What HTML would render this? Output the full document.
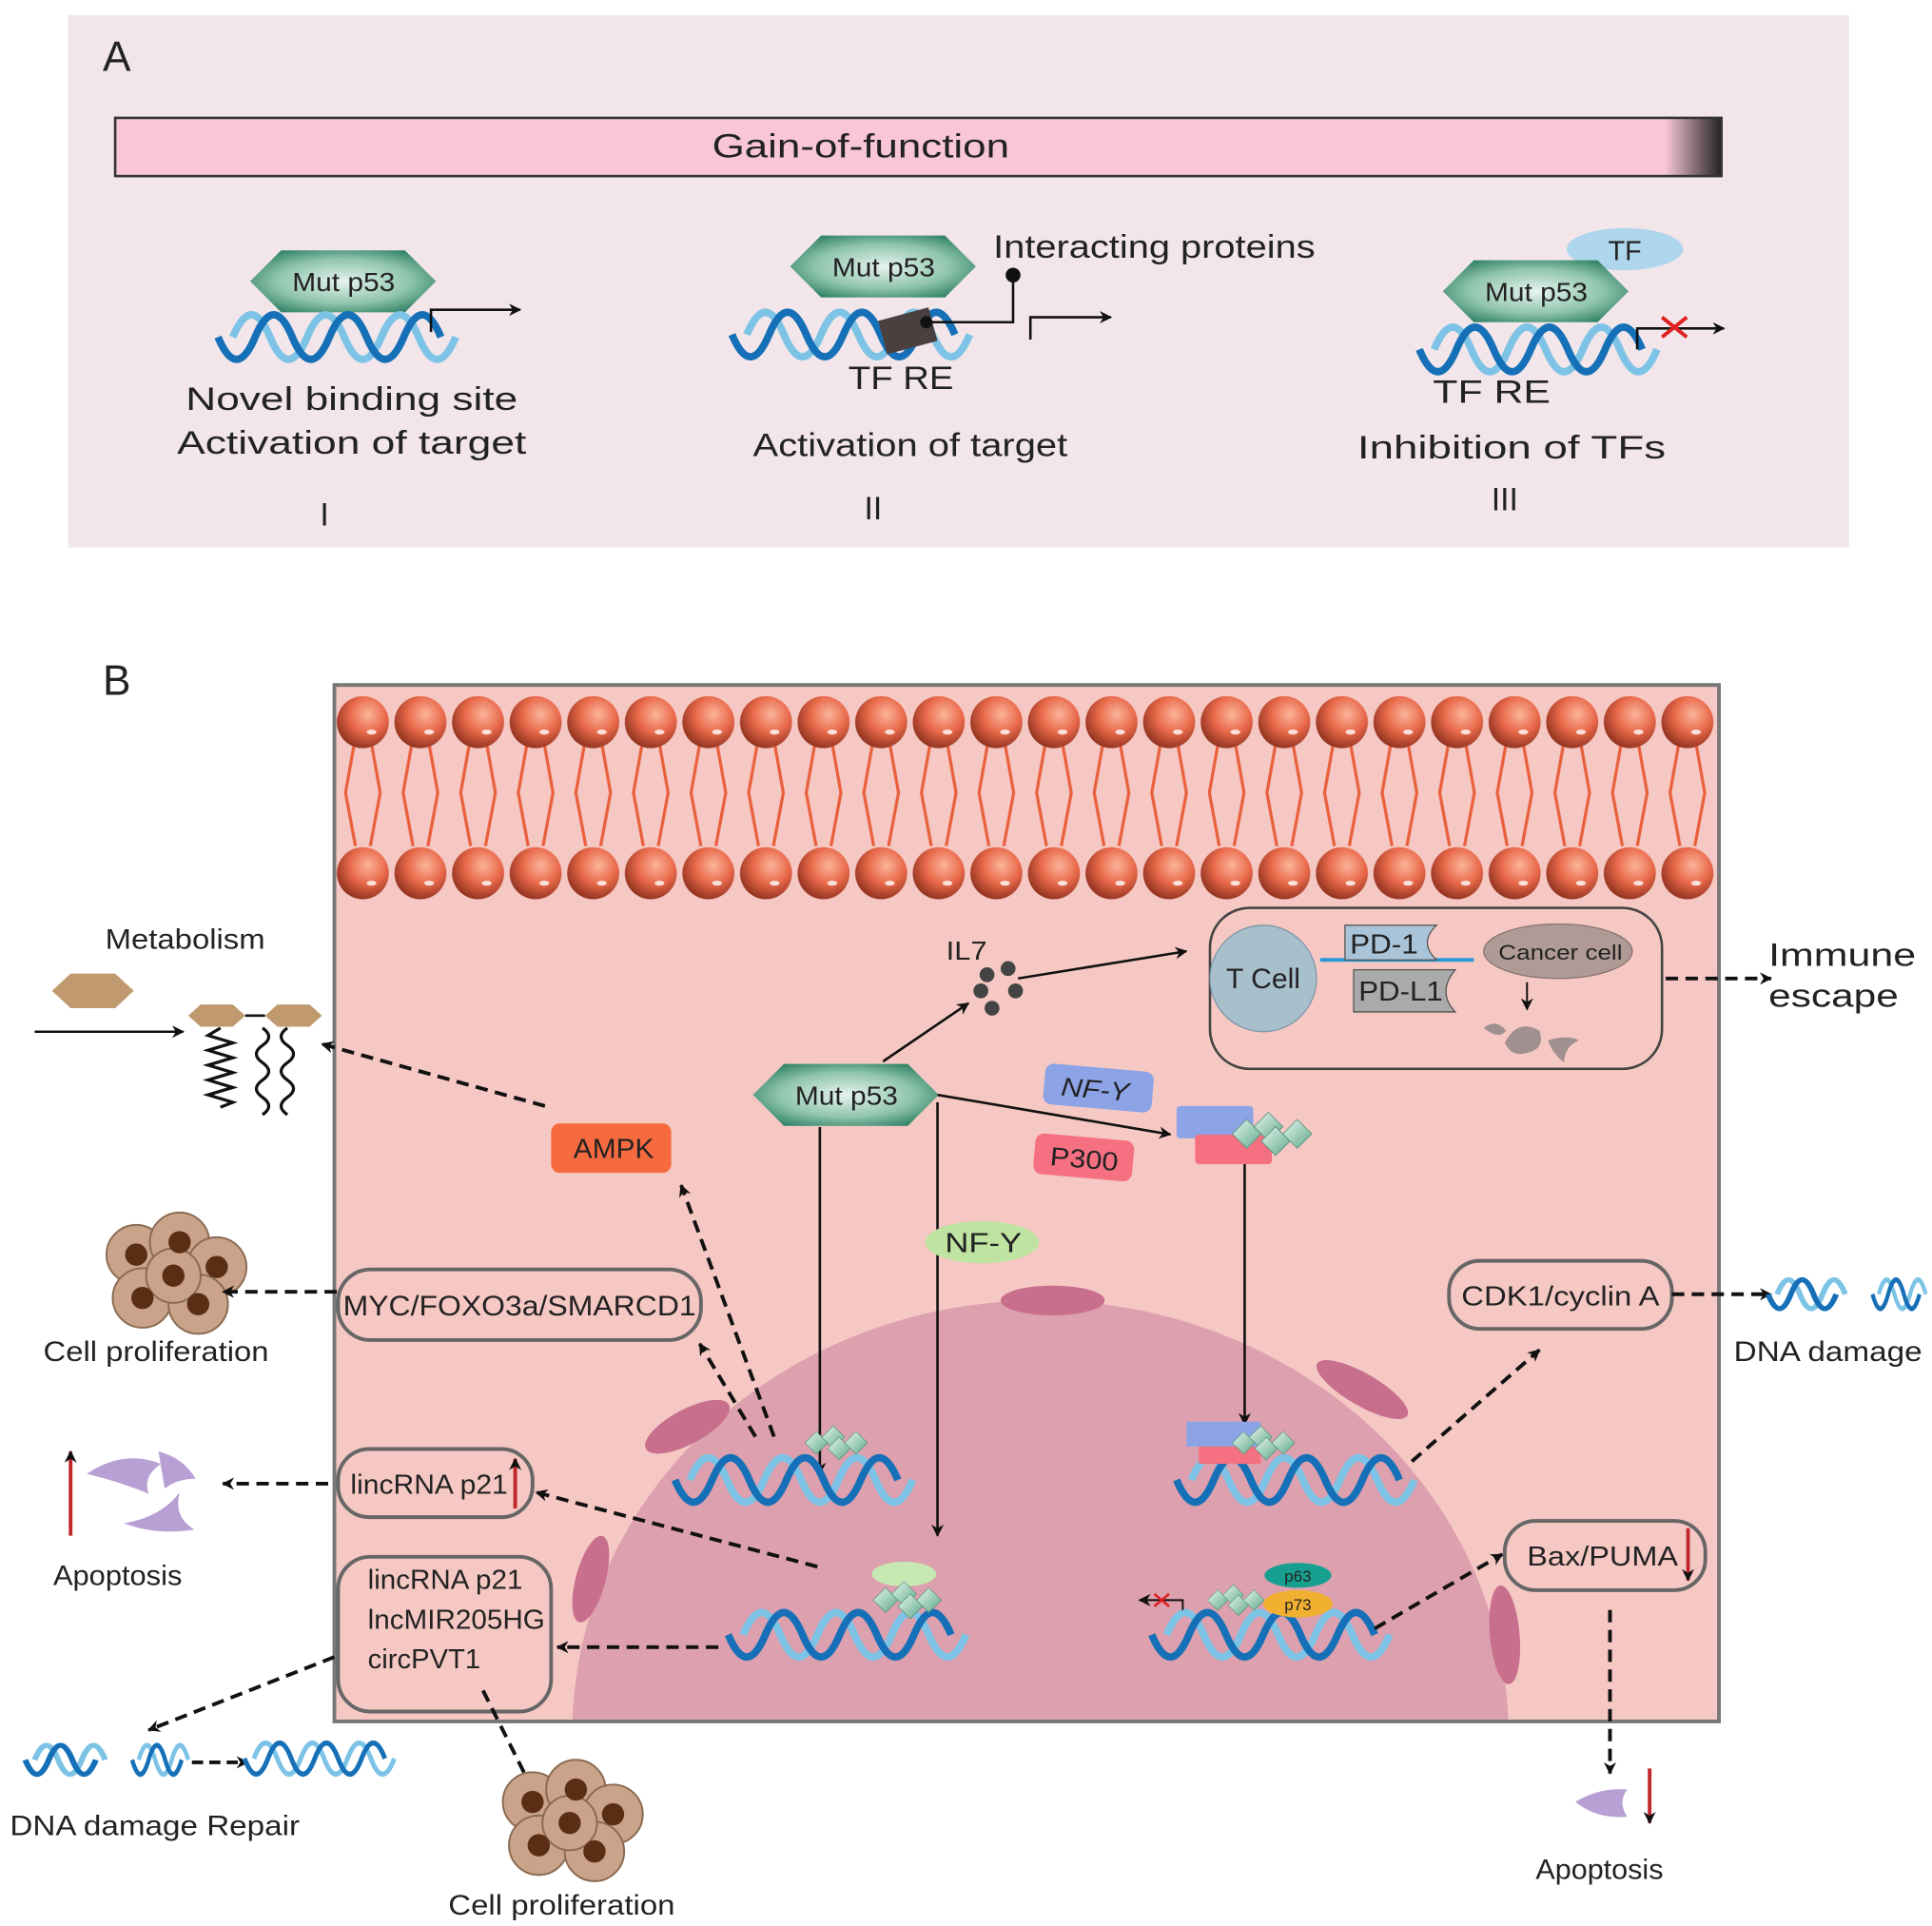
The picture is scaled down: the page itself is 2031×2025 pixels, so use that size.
<!DOCTYPE html>
<html><head><meta charset="utf-8"><style>html,body{margin:0;padding:0;background:#fff;overflow:hidden;width:2031px;height:2025px}svg{display:block}text{font-family:"Liberation Sans",sans-serif;fill:#222}</style></head><body>
<svg width="2031" height="2025" viewBox="0 0 1560 1555" xmlns="http://www.w3.org/2000/svg">
<defs>
<linearGradient id="gof" x1="0" x2="1"><stop offset="0.965" stop-color="#f8c6d6"/><stop offset="1" stop-color="#222"/></linearGradient>
<radialGradient id="hexg" cx="0.5" cy="0.5" r="0.6"><stop offset="0" stop-color="#e6f4ee"/><stop offset="0.6" stop-color="#8fc4ad"/><stop offset="1" stop-color="#2d7f62"/></radialGradient>
<radialGradient id="head" cx="0.6" cy="0.35" r="0.7"><stop offset="0" stop-color="#fbb49a"/><stop offset="0.5" stop-color="#e9694a"/><stop offset="1" stop-color="#8a2e1c"/></radialGradient>
<linearGradient id="dia" x1="0" x2="1" y1="0" y2="1"><stop offset="0" stop-color="#e8f6f0"/><stop offset="1" stop-color="#5ea88a"/></linearGradient>
<marker id="ah" markerWidth="10" markerHeight="10" refX="9" refY="5" orient="auto" markerUnits="userSpaceOnUse"><path d="M0,0 L10,5 L0,10 L3,5 Z" fill="#111"/></marker>
<symbol id="hex" viewBox="-76 -26 152 52" overflow="visible"><polygon points="-75,0 -50,-25 50,-25 75,0 50,25 -50,25" fill="url(#hexg)"/></symbol>
<symbol id="dna" viewBox="0 -22 180 44" overflow="visible">
<path d="M0,0 Q15,-36 30,0 T60,0 T90,0 T120,0 T150,0 T180,0" fill="none" stroke="#7cc3e6" stroke-width="6"/>
<path d="M-12,0 Q3,36 18,0 T48,0 T78,0 T108,0 T138,0 T168,0" fill="none" stroke="#1570b8" stroke-width="6"/>
</symbol>
<symbol id="dnas" viewBox="0 -18 60 36" overflow="visible" preserveAspectRatio="none">
<path d="M0,0 Q10,-28 20,0 T40,0 T60,0" fill="none" stroke="#7cc3e6" stroke-width="5"/>
<path d="M-8,0 Q2,28 12,0 T32,0 T52,0" fill="none" stroke="#1570b8" stroke-width="5"/>
</symbol>
<symbol id="dias" viewBox="0 0 60 30" overflow="visible">
<g fill="url(#dia)" stroke="#4c8f75" stroke-width="0.5"><polygon points="0,15 10,5 20,15 10,25"/><polygon points="15,10 25,0 35,10 25,20"/><polygon points="20,20 30,10 40,20 30,30"/><polygon points="35,15 45,5 55,15 45,25"/></g>
</symbol>
<pattern id="mem" x="270" y="555" width="46.5" height="175" patternUnits="userSpaceOnUse">
<g stroke="#e8603c" stroke-width="2.5" fill="none"><path d="M17,40 L9,85 L17,128"/><path d="M29,40 L37,85 L29,128"/></g>
<circle cx="23" cy="28" r="21" fill="url(#head)"/><circle cx="23" cy="150" r="21" fill="url(#head)"/>
<ellipse cx="30" cy="36" rx="4" ry="2" fill="#fff" opacity=".8"/><ellipse cx="30" cy="158" rx="4" ry="2" fill="#fff" opacity=".8"/>
</pattern>
<clipPath id="cellclip"><rect x="270" y="553" width="1118" height="837"/></clipPath>
<symbol id="cells" viewBox="-60 -50 120 100" overflow="visible">
<g fill="#c9a48a" stroke="#8a6a52" stroke-width="1.5">
<circle cx="-30" cy="-15" r="24"/><circle cx="5" cy="-25" r="24"/><circle cx="35" cy="-5" r="24"/><circle cx="-25" cy="20" r="24"/><circle cx="20" cy="25" r="24"/><circle cx="0" cy="2" r="22"/></g>
<g fill="#5a2e14"><circle cx="-30" cy="-15" r="9"/><circle cx="5" cy="-25" r="9"/><circle cx="35" cy="-5" r="9"/><circle cx="-25" cy="20" r="9"/><circle cx="20" cy="25" r="9"/><circle cx="0" cy="2" r="9"/></g>
</symbol>
</defs>

<!-- Panel A -->
<rect x="55" y="12" width="1438" height="430" fill="#f2e6ea"/>
<text x="83" y="57" font-size="34">A</text>
<rect x="93" y="95" width="1297" height="47" fill="url(#gof)" stroke="#333" stroke-width="2"/>
<text x="575" y="127" font-size="27" textLength="240" lengthAdjust="spacingAndGlyphs">Gain-of-function</text>

<use href="#hex" x="201" y="201" width="152" height="52"/>
<text x="236" y="235" font-size="21" textLength="83" lengthAdjust="spacingAndGlyphs">Mut p53</text>
<use href="#dna" x="188" y="250" width="180" height="44"/>
<path d="M348,268 V250 H420" fill="none" stroke="#111" stroke-width="2" marker-end="url(#ah)"/>
<text x="150" y="331" font-size="26" textLength="268" lengthAdjust="spacingAndGlyphs">Novel binding site</text>
<text x="143" y="366" font-size="26" textLength="282" lengthAdjust="spacingAndGlyphs">Activation of target</text>
<text x="262" y="424" font-size="26" text-anchor="middle" font-family="Liberation Serif">I</text>

<use href="#hex" x="637" y="189" width="152" height="52"/>
<text x="672" y="223" font-size="21" textLength="83" lengthAdjust="spacingAndGlyphs">Mut p53</text>
<use href="#dna" x="603" y="248" width="180" height="44"/>
<rect x="712" y="253" width="42" height="28" fill="#4a4040" transform="rotate(-15 733 267)"/>
<path d="M748,260 H818 V222" fill="none" stroke="#111" stroke-width="2"/>
<circle cx="748" cy="260" r="5" fill="#111"/><circle cx="818" cy="222" r="6" fill="#111"/>
<text x="802" y="208" font-size="26" textLength="260" lengthAdjust="spacingAndGlyphs">Interacting proteins</text>
<path d="M832,274 V256 H897" fill="none" stroke="#111" stroke-width="2" marker-end="url(#ah)"/>
<text x="685" y="314" font-size="26" textLength="85" lengthAdjust="spacingAndGlyphs">TF RE</text>
<text x="608" y="368" font-size="26" textLength="254" lengthAdjust="spacingAndGlyphs">Activation of target</text>
<text x="705" y="419" font-size="26" text-anchor="middle" font-family="Liberation Serif">II</text>

<ellipse cx="1312" cy="201" rx="47" ry="17" fill="#aed6ec"/>
<text x="1312" y="210" font-size="22" text-anchor="middle">TF</text>
<use href="#hex" x="1164" y="209" width="152" height="52"/>
<text x="1199" y="243" font-size="21" textLength="83" lengthAdjust="spacingAndGlyphs">Mut p53</text>
<use href="#dna" x="1158" y="260" width="180" height="44"/>
<path d="M1322,282 V265 H1392" fill="none" stroke="#111" stroke-width="2" marker-end="url(#ah)"/>
<path d="M1342,256 L1362,272 M1342,272 L1362,256" stroke="#e02020" stroke-width="3"/>
<text x="1157" y="325" font-size="26" textLength="95" lengthAdjust="spacingAndGlyphs">TF RE</text>
<text x="1096" y="370" font-size="26" textLength="249" lengthAdjust="spacingAndGlyphs">Inhibition of  TFs</text>
<text x="1215" y="412" font-size="26" text-anchor="middle" font-family="Liberation Serif">III</text>

<!-- Panel B -->
<text x="83" y="561" font-size="34">B</text>
<rect x="270" y="553" width="1118" height="837" fill="#f6c8c4"/>
<g clip-path="url(#cellclip)">
<ellipse cx="840" cy="1400" rx="378" ry="350" fill="#dca0ae"/>
<g fill="#c86f8e">
<ellipse cx="850" cy="1050" rx="42" ry="12"/>
<ellipse cx="555" cy="1152" rx="38" ry="14" transform="rotate(-28 555 1152)"/>
<ellipse cx="1100" cy="1122" rx="42" ry="13" transform="rotate(30 1100 1122)"/>
<ellipse cx="477" cy="1275" rx="36" ry="12" transform="rotate(-75 477 1275)"/>
<ellipse cx="1215" cy="1320" rx="40" ry="12" transform="rotate(85 1215 1320)"/>
</g>
</g>
<rect x="270" y="555" width="1118" height="175" fill="url(#mem)"/>
<rect x="270" y="553" width="1118" height="837" fill="none" stroke="#777" stroke-width="3"/>

<!-- metabolism -->
<text x="85" y="766" font-size="23" textLength="129" lengthAdjust="spacingAndGlyphs">Metabolism</text>
<polygon points="42,800 57,786 93,786 108,800 93,814 57,814" fill="#c09a6e"/>
<line x1="28" y1="833" x2="148" y2="833" stroke="#111" stroke-width="2" marker-end="url(#ah)"/>
<polygon points="152,820 162,811 188,811 198,820 188,829 162,829" fill="#c09a6e"/>
<polygon points="214,820 224,811 250,811 260,820 250,829 224,829" fill="#c09a6e"/>
<line x1="198" y1="820" x2="214" y2="820" stroke="#111" stroke-width="2"/>
<path d="M178,830 l-10,6 l20,6 l-20,6 l20,6 l-20,6 l20,6 l-20,6 l20,6 l-20,6 l20,6 l-10,4" fill="none" stroke="#111" stroke-width="2.5"/>
<path d="M212,830 q10,7 0,14 q-10,7 0,14 q10,7 0,14 q-10,7 0,14 q10,7 0,14" fill="none" stroke="#111" stroke-width="2.5"/>
<path d="M232,830 q-10,7 0,14 q10,7 0,14 q-10,7 0,14 q10,7 0,14 q-10,7 0,14" fill="none" stroke="#111" stroke-width="2.5"/>

<rect x="445" y="907" width="97" height="40" rx="7" fill="#f56a3e"/>
<text x="463" y="935" font-size="22" textLength="65" lengthAdjust="spacingAndGlyphs">AMPK</text>
<line x1="440" y1="893" x2="260" y2="843" stroke="#111" stroke-width="3" stroke-dasharray="10,6" marker-end="url(#ah)"/>

<use href="#cells" x="80" y="978" width="120" height="100"/>
<text x="35" y="1099" font-size="23" textLength="182" lengthAdjust="spacingAndGlyphs">Cell proliferation</text>
<rect x="273" y="1025" width="293" height="57" rx="26" fill="none" stroke="#666" stroke-width="3"/>
<text x="277" y="1062" font-size="23" textLength="285" lengthAdjust="spacingAndGlyphs">MYC/FOXO3a/SMARCD1</text>
<line x1="272" y1="1043" x2="180" y2="1043" stroke="#111" stroke-width="3" stroke-dasharray="10,6" marker-end="url(#ah)"/>

<line x1="57" y1="1240" x2="57" y2="1172" stroke="#c0282c" stroke-width="3" marker-end="url(#ah)"/>
<g fill="#b8a0d4"><path d="M70,1190 q30,-20 60,-8 q-15,10 -10,24 q-25,-10 -50,-16z"/><path d="M100,1230 q30,-5 45,-25 q-5,20 12,30 q-30,5 -57,-5z"/><path d="M128,1172 q20,5 30,22 q-15,0 -25,8z"/></g>
<text x="43" y="1280" font-size="23" textLength="104" lengthAdjust="spacingAndGlyphs">Apoptosis</text>
<rect x="273" y="1170" width="157" height="55" rx="25" fill="none" stroke="#666" stroke-width="3"/>
<text x="283" y="1206" font-size="22" textLength="127" lengthAdjust="spacingAndGlyphs">lincRNA p21</text>
<line x1="416" y1="1218" x2="416" y2="1178" stroke="#c0282c" stroke-width="3" marker-end="url(#ah)"/>
<line x1="265" y1="1198" x2="180" y2="1198" stroke="#111" stroke-width="3" stroke-dasharray="10,6" marker-end="url(#ah)"/>
<rect x="273" y="1257" width="172" height="125" rx="26" fill="none" stroke="#666" stroke-width="3"/>
<text x="297" y="1283" font-size="22" textLength="125" lengthAdjust="spacingAndGlyphs">lincRNA p21</text>
<text x="297" y="1315" font-size="22" textLength="143" lengthAdjust="spacingAndGlyphs">lncMIR205HG</text>
<text x="297" y="1347" font-size="22" textLength="91" lengthAdjust="spacingAndGlyphs">circPVT1</text>
<line x1="270" y1="1338" x2="120" y2="1397" stroke="#111" stroke-width="3" stroke-dasharray="10,6" marker-end="url(#ah)"/>
<use href="#dnas" x="28" y="1406" width="57" height="30"/>
<use href="#dnas" x="112" y="1406" width="40" height="30"/>
<line x1="155" y1="1423" x2="200" y2="1423" stroke="#111" stroke-width="3" stroke-dasharray="9,5" marker-end="url(#ah)"/>
<g transform="translate(205,1420) scale(0.63,0.7)"><use href="#dna" x="0" y="-22" width="180" height="44"/></g>
<text x="8" y="1482" font-size="23" textLength="234" lengthAdjust="spacingAndGlyphs">DNA damage Repair</text>
<line x1="390" y1="1365" x2="430" y2="1445" stroke="#111" stroke-width="3" stroke-dasharray="10,6" marker-end="url(#ah)"/>
<use href="#cells" x="400" y="1420" width="120" height="100"/>
<text x="362" y="1546" font-size="23" textLength="183" lengthAdjust="spacingAndGlyphs">Cell proliferation</text>

<!-- center -->
<use href="#hex" x="607" y="858" width="152" height="52"/>
<text x="642" y="892" font-size="21" textLength="83" lengthAdjust="spacingAndGlyphs">Mut p53</text>
<line x1="713" y1="857" x2="782" y2="810" stroke="#111" stroke-width="2" marker-end="url(#ah)"/>
<text x="764" y="775" font-size="21" textLength="33" lengthAdjust="spacingAndGlyphs">IL7</text>
<g fill="#444"><circle cx="797" cy="787" r="6"/><circle cx="814" cy="782" r="6"/><circle cx="792" cy="800" r="6"/><circle cx="820" cy="800" r="6"/><circle cx="801" cy="814" r="6"/></g>
<line x1="822" y1="790" x2="958" y2="768" stroke="#111" stroke-width="2" marker-end="url(#ah)"/>
<rect x="977" y="733" width="365" height="130" rx="32" fill="none" stroke="#444" stroke-width="2"/>
<circle cx="1020" cy="790" r="43" fill="#a8bfcc" stroke="#7d98a8"/>
<text x="990" y="798" font-size="23" textLength="60" lengthAdjust="spacingAndGlyphs">T Cell</text>
<line x1="1066" y1="775" x2="1190" y2="775" stroke="#2a9ad8" stroke-width="3"/>
<path d="M1086,747 H1160 q-15,14 0,28 H1086z" fill="#a9c4d9" stroke="#555"/>
<text x="1090" y="770" font-size="22" textLength="55" lengthAdjust="spacingAndGlyphs">PD-1</text>
<path d="M1093,783 H1175 q-15,18 0,34 H1093z" fill="#aaa" stroke="#555"/>
<text x="1097" y="808" font-size="22" textLength="68" lengthAdjust="spacingAndGlyphs">PD-L1</text>
<ellipse cx="1258" cy="768" rx="60" ry="22" fill="#b09a95" stroke="#8a7470"/>
<text x="1210" y="775" font-size="17" textLength="100" lengthAdjust="spacingAndGlyphs">Cancer cell</text>
<line x1="1233" y1="793" x2="1233" y2="815" stroke="#111" stroke-width="1.5" marker-end="url(#ah)"/>
<g fill="#a09090"><path d="M1198,830 q10,-8 18,2 q-5,8 -18,-2z"/><path d="M1215,842 q10,-20 28,-10 q5,15 -10,18 q-12,4 -18,-8z"/><path d="M1250,840 q15,-5 25,0 q-12,5 -12,18 q-10,-8 -13,-18z"/></g>
<line x1="1345" y1="790" x2="1430" y2="790" stroke="#111" stroke-width="3" stroke-dasharray="10,6" marker-end="url(#ah)"/>
<text x="1428" y="780" font-size="26" textLength="119" lengthAdjust="spacingAndGlyphs">Immune</text>
<text x="1428" y="813" font-size="26" textLength="105" lengthAdjust="spacingAndGlyphs">escape</text>

<rect x="843" y="862" width="88" height="33" rx="7" fill="#8ca4e6" transform="rotate(5 887 878)"/>
<text x="857" y="887" font-size="21" font-style="italic" textLength="55" lengthAdjust="spacingAndGlyphs" transform="rotate(5 887 878)">NF-Y</text>
<rect x="835" y="918" width="80" height="33" rx="7" fill="#f57080" transform="rotate(5 875 935)"/>
<text x="848" y="943" font-size="21" textLength="55" lengthAdjust="spacingAndGlyphs" transform="rotate(5 875 935)">P300</text>
<line x1="757" y1="884" x2="945" y2="916" stroke="#111" stroke-width="2" marker-end="url(#ah)"/>
<rect x="950" y="893" width="62" height="26" rx="3" fill="#8ca4e6"/>
<rect x="965" y="916" width="62" height="24" rx="3" fill="#f57080"/>
<use href="#dias" x="995" y="898" width="70" height="35"/>
<line x1="1005" y1="940" x2="1005" y2="1150" stroke="#111" stroke-width="2" marker-end="url(#ah)"/>

<line x1="662" y1="910" x2="662" y2="1190" stroke="#111" stroke-width="2" marker-end="url(#ah)"/>
<line x1="757" y1="890" x2="757" y2="1240" stroke="#111" stroke-width="2" marker-end="url(#ah)"/>
<ellipse cx="793" cy="1003" rx="46" ry="17" fill="#bfe3a0"/>
<text x="763" y="1011" font-size="22" textLength="62" lengthAdjust="spacingAndGlyphs">NF-Y</text>

<use href="#dna" x="557" y="1173" width="180" height="44"/>
<use href="#dias" x="650" y="1150" width="55" height="30"/>
<line x1="625" y1="1160" x2="550" y2="957" stroke="#111" stroke-width="3" stroke-dasharray="10,6" marker-end="url(#ah)"/>
<line x1="610" y1="1160" x2="565" y2="1085" stroke="#111" stroke-width="3" stroke-dasharray="10,6" marker-end="url(#ah)"/>

<use href="#dna" x="600" y="1298" width="180" height="44"/>
<ellipse cx="730" cy="1271" rx="26" ry="10" fill="#c7e8b2"/>
<use href="#dias" x="705" y="1277" width="60" height="30"/>
<line x1="660" y1="1265" x2="433" y2="1205" stroke="#111" stroke-width="3" stroke-dasharray="10,6" marker-end="url(#ah)"/>
<line x1="580" y1="1330" x2="450" y2="1330" stroke="#111" stroke-width="3" stroke-dasharray="10,6" marker-end="url(#ah)"/>

<use href="#dna" x="962" y="1173" width="180" height="44"/>
<rect x="958" y="1148" width="60" height="20" fill="#8ca4e6"/>
<rect x="968" y="1168" width="50" height="14" fill="#f57080"/>
<use href="#dias" x="995" y="1150" width="55" height="30"/>
<line x1="1140" y1="1180" x2="1243" y2="1090" stroke="#111" stroke-width="3" stroke-dasharray="10,6" marker-end="url(#ah)"/>
<rect x="1170" y="1018" width="180" height="55" rx="25" fill="none" stroke="#666" stroke-width="3"/>
<text x="1180" y="1054" font-size="22" textLength="160" lengthAdjust="spacingAndGlyphs">CDK1/cyclin A</text>
<line x1="1350" y1="1045" x2="1430" y2="1045" stroke="#111" stroke-width="3" stroke-dasharray="10,6" marker-end="url(#ah)"/>
<use href="#dnas" x="1435" y="1030" width="55" height="30"/>
<use href="#dnas" x="1517" y="1030" width="38" height="30"/>
<text x="1400" y="1099" font-size="23" textLength="152" lengthAdjust="spacingAndGlyphs">DNA damage</text>

<use href="#dna" x="942" y="1298" width="180" height="44"/>
<ellipse cx="1048" cy="1272" rx="27" ry="10" fill="#17a090"/>
<text x="1048" y="1277" font-size="13" text-anchor="middle">p63</text>
<ellipse cx="1048" cy="1295" rx="28" ry="11" fill="#f2b030"/>
<text x="1048" y="1300" font-size="13" text-anchor="middle">p73</text>
<use href="#dias" x="975" y="1278" width="50" height="28"/>
<path d="M955,1300 V1292 H920" fill="none" stroke="#111" stroke-width="1.5" marker-end="url(#ah)"/>
<path d="M932,1287 L944,1297 M932,1297 L944,1287" stroke="#e02020" stroke-width="2"/>
<line x1="1110" y1="1315" x2="1213" y2="1255" stroke="#111" stroke-width="3" stroke-dasharray="10,6" marker-end="url(#ah)"/>
<rect x="1215" y="1228" width="162" height="56" rx="25" fill="none" stroke="#666" stroke-width="3"/>
<text x="1233" y="1264" font-size="22" textLength="122" lengthAdjust="spacingAndGlyphs">Bax/PUMA</text>
<line x1="1363" y1="1234" x2="1363" y2="1276" stroke="#c0282c" stroke-width="3" marker-end="url(#ah)"/>
<line x1="1300" y1="1300" x2="1300" y2="1432" stroke="#111" stroke-width="3" stroke-dasharray="10,6" marker-end="url(#ah)"/>
<path d="M1272,1455 q20,-12 42,-10 q-8,10 0,22 q-25,2 -42,-12z" fill="#b8a0d4"/>
<line x1="1332" y1="1428" x2="1332" y2="1472" stroke="#c0282c" stroke-width="3" marker-end="url(#ah)"/>
<text x="1240" y="1517" font-size="23" textLength="103" lengthAdjust="spacingAndGlyphs">Apoptosis</text>
</svg>
</body></html>
